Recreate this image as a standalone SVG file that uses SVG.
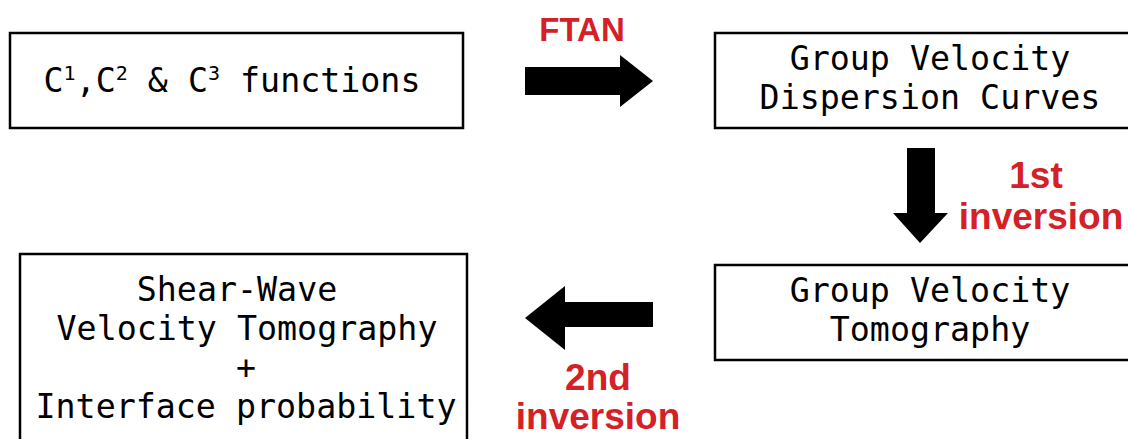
<svg xmlns="http://www.w3.org/2000/svg" width="1128" height="439" viewBox="0 0 1128 439">
<style>
.box{fill:#fff;stroke:#000;stroke-width:2.5}
.t{font-family:"DejaVu Sans Mono",monospace;font-size:33.3px;fill:#000;text-anchor:middle}
.sup{font-size:20px}
.r{font-family:"Liberation Sans",Arial,sans-serif;font-weight:bold;font-size:37px;fill:#d42027;text-anchor:middle}
.arr{fill:#000}
</style>
<rect width="1128" height="439" fill="#fff"/>
<g id="node-c123">
<rect class="box" x="10" y="33" width="453" height="95"/>
<text class="t" x="232" y="92">C<tspan class="sup" dy="-12">1</tspan><tspan dy="12">,C</tspan><tspan class="sup" dy="-12">2</tspan><tspan dy="12"> &amp; C</tspan><tspan class="sup" dy="-12">3</tspan><tspan dy="12"> functions</tspan></text>
</g>
<g id="node-dispersion">
<rect class="box" x="715" y="33" width="420" height="95"/>
<text class="t" x="930" y="70">Group Velocity</text>
<text class="t" x="930" y="109">Dispersion Curves</text>
</g>
<g id="node-gvtomo">
<rect class="box" x="715" y="265" width="420" height="95"/>
<text class="t" x="930" y="302">Group Velocity</text>
<text class="t" x="930" y="341">Tomography</text>
</g>
<g id="node-shear">
<rect class="box" x="20" y="254" width="447" height="200"/>
<text class="t" x="237" y="301">Shear-Wave</text>
<text class="t" x="247" y="340">Velocity Tomography</text>
<text class="t" x="246" y="379">+</text>
<text class="t" x="246" y="418">Interface probability</text>
</g>
<g id="connectors">
<polygon class="arr" points="525,67 620,67 620,55 653,81 620,107 620,95 525,95"/>
<polygon class="arr" points="907,148 935,148 935,213 948,213 920,243 893,213 907,213"/>
<polygon class="arr" points="653,302 565,302 565,286 525,318 565,350 565,327 653,327"/>
<text class="r" x="582" y="41" style="font-size:33px">FTAN</text>
<text class="r" x="1036" y="188">1st</text>
<text class="r" x="1041" y="229">inversion</text>
<text class="r" x="598" y="390">2nd</text>
<text class="r" x="598" y="429">inversion</text>
</g>
</svg>
